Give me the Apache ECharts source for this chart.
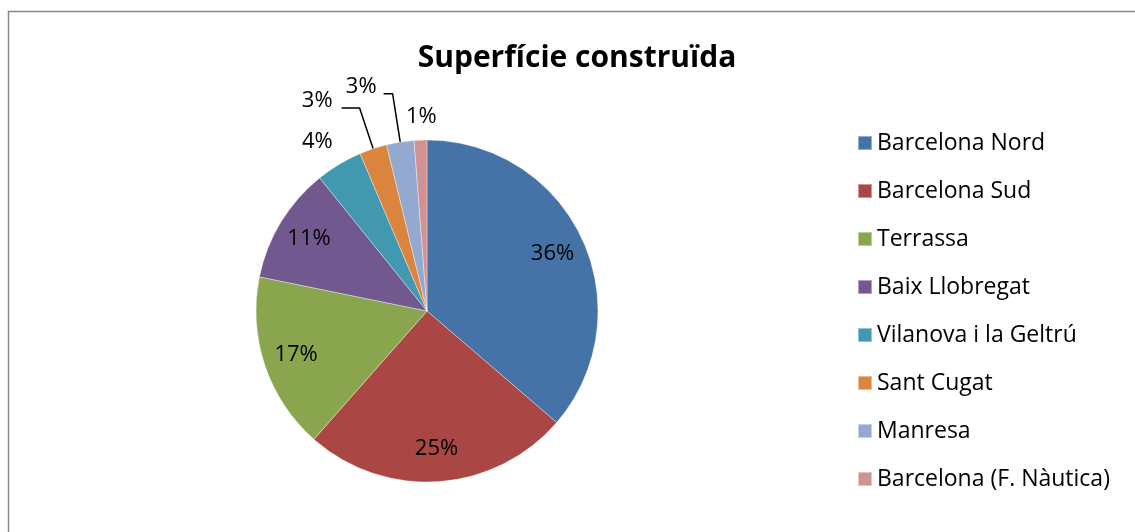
<!DOCTYPE html>
<html>
<head>
<meta charset="utf-8">
<script src="https://cdn.jsdelivr.net/npm/echarts@6/dist/echarts.min.js"></script>
<style>
  html, body { margin: 0; padding: 0; background: #fff; }
  #chart { width: 1135px; height: 532px; }
</style>
</head>
<body>
<div id="chart"></div>
<script>
const titleText = 'Superfície construïda';
const categories = ['Barcelona Nord', 'Barcelona Sud', 'Terrassa', 'Baix Llobregat',
  'Vilanova i la Geltrú', 'Sant Cugat', 'Manresa', 'Barcelona (F. Nàutica)'];
const shares = [36.3, 25.2, 16.7, 11.0, 4.4, 2.6, 2.6, 1.2];
const colors = ['#4572A7', '#AA4643', '#89A54E', '#71588F', '#4198AF', '#DB843D', '#93A9CF', '#D19392'];

const FONT = 'Open Sans';
const FS = 22;
const chart = echarts.init(document.getElementById('chart'), null, { renderer: 'canvas', width: 1135, height: 532 });

const CX = 427, CY = 311, R = 171;
const pct = p => Math.round(p.percent) + '%';
const raisedFmt = p => '{t|' + pct(p) + '}\n{s| }';
const raisedRich = {
  t: { fontFamily: FONT, fontSize: FS, color: '#000', lineHeight: 26 },
  s: { fontSize: 1, lineHeight: 14 }
};

// label placement for the small outer slices
const outerLabel = {
  4: { label: { distanceToLabelLine: -7 }, labelLine: { show: false, length: 26, length2: 0 } },
  5: { label: { distanceToLabelLine: 9, formatter: raisedFmt, rich: raisedRich }, labelLine: { show: true, length: 43, length2: 18 } },
  6: { label: { distanceToLabelLine: 7, formatter: raisedFmt, rich: raisedRich }, labelLine: { show: true, length: 49, length2: 9 } },
  7: { label: { distanceToLabelLine: 5 }, labelLine: { show: false, length: 23, length2: 0 } }
};

const mainData = categories.map((name, i) => {
  const item = { name, value: shares[i], itemStyle: { color: colors[i] } };
  if (outerLabel[i]) {
    item.label = Object.assign({ show: true, position: 'outside' }, outerLabel[i].label);
    item.labelLine = Object.assign({ lineStyle: { color: '#000', width: 1.5 } }, outerLabel[i].labelLine);
  } else {
    item.label = { show: false };
    item.labelLine = { show: false };
  }
  return item;
});

const overlayData = categories.map((name, i) => ({
  name: 'lbl_' + i,
  value: shares[i],
  label: { show: i < 4 }
}));

chart.setOption({
  backgroundColor: '#ffffff',
  animation: false,
  title: {
    text: titleText,
    left: 577,
    top: 43,
    textAlign: 'center',
    padding: 0,
    textStyle: { fontFamily: FONT, fontWeight: 'bold', fontSize: 30, color: '#000' }
  },
  legend: {
    orient: 'vertical',
    left: 857,
    top: 131,
    padding: 0,
    data: categories,
    icon: 'rect',
    itemWidth: 14,
    itemHeight: 14,
    itemGap: 24,
    selectedMode: false,
    textStyle: { fontFamily: FONT, fontSize: 23, color: '#000', lineHeight: 24 }
  },
  graphic: [{
    type: 'rect',
    shape: { x: 8.5, y: 11.5, width: 1140, height: 540 },
    style: { fill: 'none', stroke: '#878787', lineWidth: 1.5 },
    silent: true
  }],
  series: [
    {
      type: 'pie',
      center: [CX, CY],
      radius: [0, R],
      startAngle: 90,
      clockwise: true,
      avoidLabelOverlap: false,
      silent: true,
      itemStyle: { borderColor: 'rgba(255,255,255,0.45)', borderWidth: 0.8 },
      label: { formatter: pct, fontFamily: FONT, fontSize: FS, color: '#000' },
      labelLayout: function (params) {
        if (params.dataIndex === 7) return { dx: 22 };
      },
      data: mainData
    },
    {
      type: 'pie',
      center: [CX, CY],
      radius: [0, 2 * 0.79 * R],
      startAngle: 90,
      clockwise: true,
      avoidLabelOverlap: false,
      silent: true,
      legendHoverLink: false,
      itemStyle: { color: 'rgba(0,0,0,0)', borderWidth: 0 },
      label: { position: 'inside', formatter: pct, fontFamily: FONT, fontSize: FS, color: '#000' },
      labelLine: { show: false },
      emphasis: { disabled: true },
      data: overlayData
    }
  ]
});
</script>
</body>
</html>
